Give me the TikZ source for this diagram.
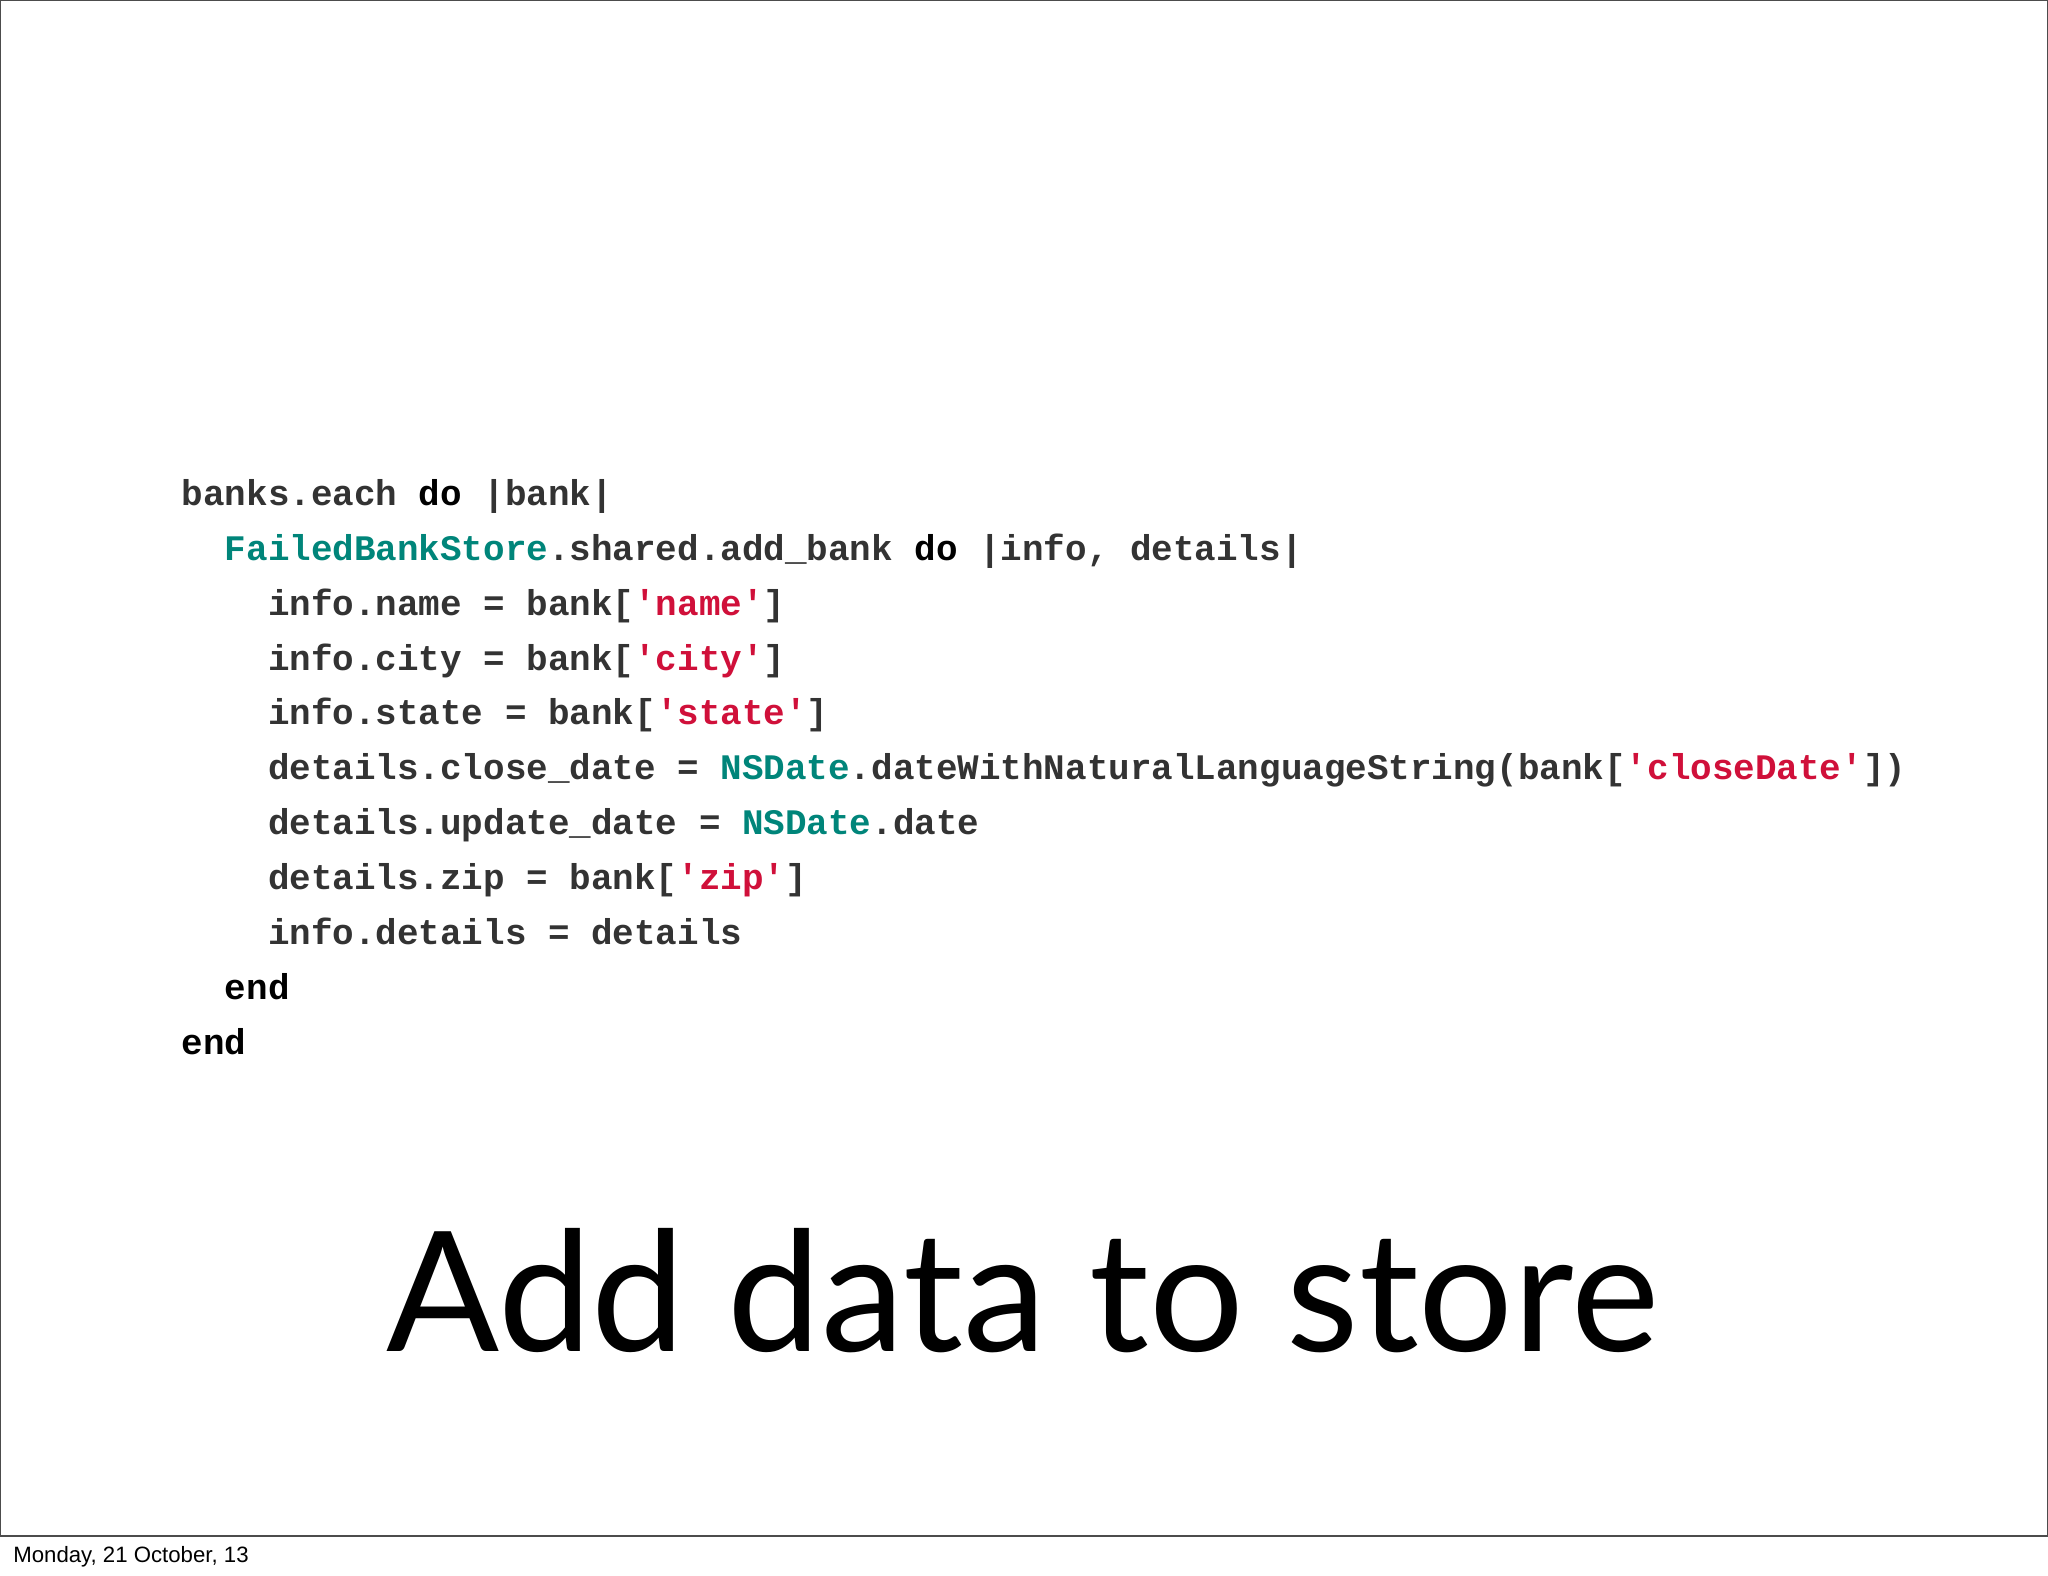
\documentclass[tikz,border=0pt]{standalone}
\usepackage{fontspec}
\setmainfont{Lato}
\newfontfamily\codefont{Liberation Mono}
\newfontfamily\footfont{Liberation Sans}
\definecolor{codegray}{HTML}{333333}
\definecolor{codeteal}{HTML}{00857A}
\definecolor{codered}{HTML}{D0103A}
\newcommand{\cls}[1]{\textcolor{codeteal}{#1}}
\newcommand{\str}[1]{\textcolor{codered}{#1}}
\newcommand{\kw}[1]{\textcolor{black}{#1}}
\begin{document}
\begin{tikzpicture}[x=1pt,y=-1pt,
  codeline/.style={anchor=base west,inner sep=0,font=\codefont\bfseries\fontsize{27.5}{30}\selectfont,text=codegray}]
\fill[white] (0,0) rectangle (1568,1206.6);
\draw[line width=1pt,black!70] (0.5,0.5) rectangle (1567.5,1176);
\node[codeline] (l1) at (139,387) {banks.each \kw{do} |bank|};
\node[codeline] (l2) at (172,429) {\cls{FailedBankStore}.shared.add\_bank \kw{do} |info, details|};
\node[codeline] (l3) at (205,471) {info.name = bank[\str{'name'}]};
\node[codeline] (l4) at (205,513) {info.city = bank[\str{'city'}]};
\node[codeline] (l5) at (205,555) {info.state = bank[\str{'state'}]};
\node[codeline] (l6) at (205,597) {details.close\_date = \cls{NSDate}.dateWithNaturalLanguageString(bank[\str{'closeDate'}])};
\node[codeline] (l7) at (205,639) {details.update\_date = \cls{NSDate}.date};
\node[codeline] (l8) at (205,681) {details.zip = bank[\str{'zip'}]};
\node[codeline] (l9) at (205,723) {info.details = details};
\node[codeline] (l10) at (172,765) {\kw{end}};
\node[codeline] (l11) at (139,807) {\kw{end}};
\node[anchor=base,inner sep=0,font=\fontsize{128}{140}\selectfont] (title) at (783,1035) {Add data to store};
\node[anchor=base west,inner sep=0,font=\footfont\fontsize{17}{20}\selectfont] (foot) at (10,1196) {Monday, 21 October, 13};
\end{tikzpicture}
\end{document}
